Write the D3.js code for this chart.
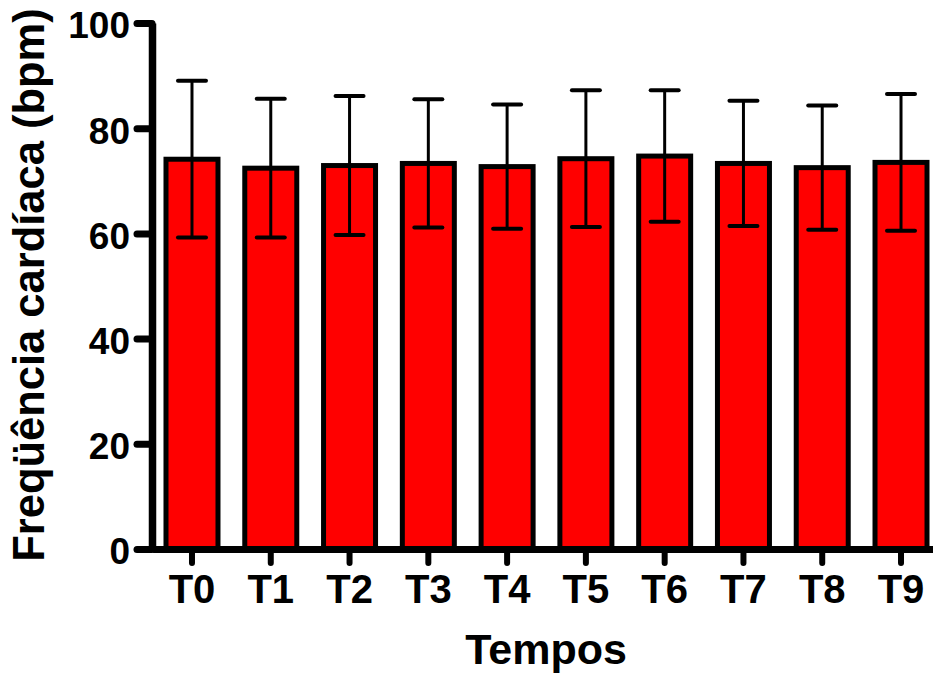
<!DOCTYPE html>
<html>
<head>
<meta charset="utf-8">
<script src="https://cdn.jsdelivr.net/npm/d3@7"></script>
<style>
    body { margin: 0; background: #fff; }
    text { font-family: "Liberation Sans", Arial, sans-serif; font-weight: bold; }
</style>
</head>
<body>
<div id="chart"></div>
<script>
// data (mean ± SD)
let categories = ["T0", "T1", "T2", "T3", "T4", "T5", "T6", "T7", "T8", "T9"];
let means = [74.1, 72.4, 72.9, 73.3, 72.7, 74.2, 74.7, 73.3, 72.5, 73.5];
let sds = [14.9, 13.2, 13.2, 12.2, 11.8, 13.0, 12.5, 11.9, 11.8, 13.0];
let yTicks = [0, 20, 40, 60, 80, 100];

let width = 933, height = 677;

let svg = d3.select("#chart").append("svg")
    .attr("width", width)
    .attr("height", height);

let x = d3.scaleBand()
    .domain(categories)
    .range([152.6, 940.4])
    .paddingInner(0.34)
    .paddingOuter(0.17);

let y = d3.scaleLinear()
    .domain([0, 100])
    .range([549, 23]);

let data = categories.map((c, i) => ({cat: c, mean: means[i], sd: sds[i]}));

// bars
svg.selectAll(".bar")
    .data(data)
    .join("rect")
    .attr("class", "bar")
    .attr("x", d => x(d.cat) + x.bandwidth() / 2 - 26)
    .attr("width", 52)
    .attr("y", d => y(d.mean))
    .attr("height", d => y(0) - y(d.mean))
    .attr("fill", "#ff0000")
    .attr("stroke", "#000")
    .attr("stroke-width", 5);

// error bars
let cx = d => x(d.cat) + x.bandwidth() / 2;
svg.selectAll(".whisker")
    .data(data)
    .join("line")
    .attr("x1", cx).attr("x2", cx)
    .attr("y1", d => y(d.mean + d.sd))
    .attr("y2", d => y(d.mean - d.sd))
    .attr("stroke", "#000")
    .attr("stroke-width", 3);

let caps = [];
data.forEach(d => {
    caps.push({d: d, v: d.mean + d.sd});
    caps.push({d: d, v: d.mean - d.sd});
});
svg.selectAll(".cap")
    .data(caps)
    .join("line")
    .attr("x1", c => cx(c.d) - 14)
    .attr("x2", c => cx(c.d) + 14)
    .attr("y1", c => y(c.v))
    .attr("y2", c => y(c.v))
    .attr("stroke", "#000")
    .attr("stroke-width", 4)
    .attr("stroke-linecap", "round");

// x axis
let xAxis = svg.append("g")
    .attr("transform", `translate(0, ${y(0)})`)
    .call(d3.axisBottom(x).tickSize(14).tickSizeOuter(0).tickPadding(12));
xAxis.select(".domain").attr("stroke-width", 7);
xAxis.selectAll(".tick line").attr("stroke-width", 6).attr("stroke-linecap", "round");
xAxis.selectAll(".tick text")
    .attr("font-size", 40)
    .attr("font-weight", "bold")
    .attr("font-family", "Liberation Sans, Arial, sans-serif")
    .attr("fill", "#000");

// y axis
let yAxis = svg.append("g")
    .attr("transform", "translate(152, 0)")
    .call(d3.axisLeft(y).tickValues(yTicks).tickSize(15).tickSizeOuter(0).tickPadding(7));
yAxis.select(".domain").attr("stroke-width", 7.5);
yAxis.selectAll(".tick line").attr("stroke-width", 7).attr("stroke-linecap", "round");
yAxis.selectAll(".tick text")
    .attr("font-size", 37)
    .attr("dy", "0.4em")
    .attr("font-weight", "bold")
    .attr("font-family", "Liberation Sans, Arial, sans-serif")
    .attr("fill", "#000");

// axis titles
svg.append("text")
    .attr("x", 546)
    .attr("y", 664)
    .attr("text-anchor", "middle")
    .attr("font-size", 43)
    .text("Tempos");

svg.append("text")
    .attr("transform", "translate(44, 285) rotate(-90)")
    .attr("text-anchor", "middle")
    .attr("font-size", 43.5)
    .text("Freqüência cardíaca (bpm)");
</script>
</body>
</html>
